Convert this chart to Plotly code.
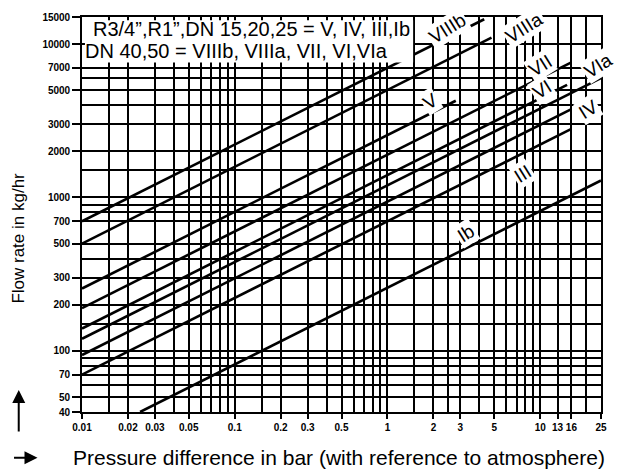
import numpy as np
import plotly.graph_objects as go

# ---- axis tick / grid values ----
dp_major = [0.01, 0.02, 0.03, 0.05, 0.1, 0.2, 0.3, 0.5, 1, 2, 3, 5, 10, 13, 16, 25]
dp_minor = [0.015, 0.04, 0.06, 0.07, 0.08, 0.09, 0.15, 0.4, 0.6, 0.7, 0.8, 0.9,
            1.5, 2.5, 4, 6, 7, 8, 9, 20]
flow_major = [40, 50, 70, 100, 200, 300, 500, 700, 1000, 2000, 3000, 5000, 7000, 10000, 15000]
flow_minor = [60, 80, 90, 150, 400, 800, 900, 1500, 4000, 6000]

# ---- characteristic lines (start / end points) ----
names      = ["VIIIb", "VIIIa", "V", "VII", "VI", "VIa", "IV", "III", "Ib"]
dp_start   = [0.01, 0.01, 0.01, 0.01, 0.01, 0.01, 0.01, 0.01, 0.024]
dp_end     = [4.3, 4.8, 2.8, 16, 15, 25, 16, 16, 25]
flow_start = [700, 500, 255, 190, 140, 120, 94, 70, 40]
flow_end   = [14500, 11000, 4270, 7600, 5420, 6000, 3760, 2800, 1290]

# ---- line label positions ----
label_dp   = [2.47, 7.85, 1.90, 10.1, 10.3, 24.0, 20.6, 7.76, 3.25]
label_flow = [12600, 12900, 4210, 7210, 5080, 7200, 3770, 1428, 583]

box_line1 = "R3/4\u201d,R1\u201d,DN 15,20,25 = V, IV, III,Ib"
box_line2 = "DN 40,50 = VIIIb, VIIIa, VII, VI,VIa"
x_title = "Pressure difference in bar (with reference to atmosphere)"
y_title = "Flow rate in kg/hr"

MAIN_FONT = "Liberation Sans, Arial, Helvetica, sans-serif"
TICK_FONT = "Liberation Sans, Arial, sans-serif"

fig = go.Figure()
for n, x0, x1, y0, y1 in zip(names, dp_start, dp_end, flow_start, flow_end):
    fig.add_trace(go.Scatter(x=[x0, x1], y=[y0, y1], mode="lines", name=n,
                             line=dict(color="black", width=2.6), showlegend=False,
                             hoverinfo="skip"))

for n, lx, ly in zip(names, label_dp, label_flow):
    fig.add_annotation(x=np.log10(lx), y=np.log10(ly), xref="x", yref="y", text=n,
                       showarrow=False, textangle=-32, bgcolor="white", borderpad=1,
                       font=dict(family=MAIN_FONT, size=19, color="black"))

# white text box (hides grid lines)
fig.add_shape(type="rect", xref="paper", yref="paper", x0=0.0057, x1=0.638,
              y0=0.885, y1=0.992, fillcolor="white", line=dict(width=0), layer="above")
fig.add_annotation(xref="paper", yref="paper", x=0.017, y=0.970, xanchor="left",
                   yanchor="middle", text=box_line1, showarrow=False,
                   font=dict(family=MAIN_FONT, size=20, color="black"))
fig.add_annotation(xref="paper", yref="paper", x=0.002, y=0.914, xanchor="left",
                   yanchor="middle", text=box_line2, showarrow=False,
                   font=dict(family=MAIN_FONT, size=20, color="black"))

# axis titles and arrows
fig.add_annotation(xref="paper", yref="paper", x=-0.022, y=-0.1159, xanchor="left",
                   yanchor="middle", text=x_title, showarrow=False,
                   font=dict(family=MAIN_FONT, size=21, color="black"))
fig.add_annotation(xref="paper", yref="paper", x=-0.1219, y=0.4408, xanchor="center",
                   yanchor="middle", text=y_title, showarrow=False, textangle=-90,
                   font=dict(family=MAIN_FONT, size=17, color="black"))
fig.add_annotation(xref="paper", yref="paper", x=-0.1219, y=0.0554, ax=0, ay=43,
                   axref="pixel", ayref="pixel", text="", showarrow=True,
                   arrowhead=2, arrowsize=1.3, arrowwidth=2, arrowcolor="black")
fig.add_annotation(xref="paper", yref="paper", x=-0.0857, y=-0.1159, ax=-25, ay=0,
                   axref="pixel", ayref="pixel", text="", showarrow=True,
                   arrowhead=2, arrowsize=1.3, arrowwidth=2, arrowcolor="black")

grid_w = 1.6
fig.update_xaxes(type="log", range=[np.log10(0.01), np.log10(25)],
                 tickmode="array", tickvals=dp_major,
                 ticktext=["<b>%s</b>" % v for v in dp_major], tickangle=0,
                 showgrid=True, gridcolor="black", gridwidth=grid_w,
                 minor=dict(tickmode="array", tickvals=dp_minor, showgrid=True,
                            gridcolor="black", gridwidth=grid_w, ticks=""),
                 ticks="outside", ticklen=5, tickwidth=1.5, tickcolor="black",
                 showline=True, linecolor="black", linewidth=1.6, mirror=True,
                 zeroline=False,
                 tickfont=dict(family=TICK_FONT, size=10, color="black"))
fig.update_yaxes(type="log", range=[np.log10(40), np.log10(15000)],
                 tickmode="array", tickvals=flow_major,
                 ticktext=["<b>%s</b>" % v for v in flow_major],
                 showgrid=True, gridcolor="black", gridwidth=grid_w,
                 minor=dict(tickmode="array", tickvals=flow_minor, showgrid=True,
                            gridcolor="black", gridwidth=grid_w, ticks=""),
                 ticks="outside", ticklen=8, tickwidth=1.5, tickcolor="black",
                 showline=True, linecolor="black", linewidth=1.6, mirror=True,
                 zeroline=False,
                 tickfont=dict(family=TICK_FONT, size=10, color="black"))

fig.update_layout(width=618, height=473, margin=dict(l=82, r=11, t=15, b=61),
                  paper_bgcolor="white", plot_bgcolor="white", showlegend=False)

fig.write_html("out.html", config={"displayModeBar": False},
               post_script="document.body.style.margin='0';document.body.style.overflow='hidden';")
